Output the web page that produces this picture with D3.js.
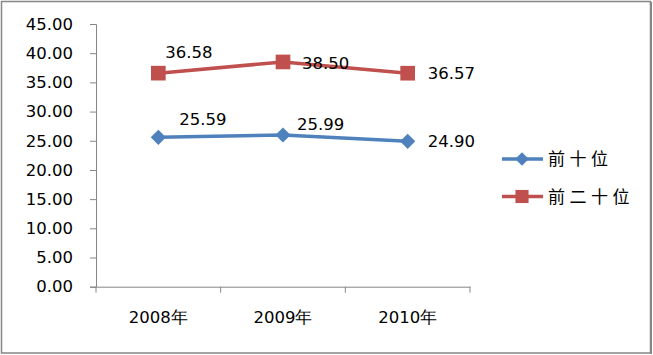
<!DOCTYPE html>
<html>
<head>
<meta charset="utf-8">
<script src="https://cdn.jsdelivr.net/npm/d3@7"></script>
<style>
  body { margin: 0; background: #fff; }
  svg text { font-family: "DejaVu Sans", sans-serif; }
</style>
</head>
<body>
<svg></svg>
<script>
// ===== Données =====
const categories = ["2008年", "2009年", "2010年"];
const seriesNames = ["前十位", "前二十位"];
const top10 = [25.59, 25.99, 24.90];
const top20 = [36.58, 38.50, 36.57];
const yTicks = [0, 5, 10, 15, 20, 25, 30, 35, 40, 45];

// décalage des étiquettes (dx, dy) par point, comme placées dans Excel
const labelShift10 = [[21, -18], [14, -11], [20, 0]];
const labelShift20 = [[7, -21], [19, 1], [20, 0]];

const width = 653, height = 355;
const svg = d3.select("svg").attr("width", width).attr("height", height);

// cadre du graphique
svg.append("rect")
  .attr("x", 1.5).attr("y", 1.5)
  .attr("width", 649).attr("height", 351.5)
  .attr("fill", "#fff").attr("stroke", "#868686").attr("stroke-width", 1.5);
svg.append("line").attr("x1", 651).attr("x2", 651).attr("y1", 2).attr("y2", 354)
  .attr("stroke", "#868686").attr("stroke-width", 2);

const x = d3.scaleBand().domain(categories).range([96, 470]);
const y = d3.scaleLinear().domain([0, 45]).range([286.7, 24]);

// axe Y
const yAxis = svg.append("g").attr("transform", "translate(96,0)")
  .call(d3.axisLeft(y).tickValues(yTicks).tickSize(6).tickPadding(17).tickFormat(d3.format(".2f")));
yAxis.selectAll("text").attr("font-size", 16.5).attr("fill", "#000")
  .style("font-family", "DejaVu Sans");

// axe X
const xAxis = svg.append("g").attr("transform", "translate(0,286.7)")
  .call(d3.axisBottom(x).tickSize(0).tickPadding(25));
xAxis.selectAll("text").attr("font-size", 16.5).attr("fill", "#000");
// graduations entre catégories
const bounds = [96].concat(categories.map(c => x(c) + x.bandwidth()));
xAxis.selectAll(".cat-tick").data(bounds).enter().append("line")
  .attr("x1", d => d).attr("x2", d => d).attr("y1", 0).attr("y2", 6)
  .attr("stroke", "#868686");
svg.selectAll(".domain, .tick line").attr("stroke", "#868686");

const cx = c => x(c) + x.bandwidth() / 2;
const line = d3.line().x((d, i) => cx(categories[i])).y(d => y(d));

const series = [
  { name: seriesNames[0], values: top10, color: "#4F81BD", size: 115, rot: 45, shift: labelShift10 },
  { name: seriesNames[1], values: top20, color: "#C0504D", size: 215, rot: 0, shift: labelShift20 }
];

series.forEach(s => {
  svg.append("path").datum(s.values)
    .attr("d", line).attr("fill", "none")
    .attr("stroke", s.color).attr("stroke-width", 3.5);

  svg.selectAll(null).data(s.values).enter().append("path")
    .attr("d", d3.symbol().type(d3.symbolSquare).size(s.size))
    .attr("transform", (d, i) => `translate(${cx(categories[i])},${y(d)}) rotate(${s.rot})`)
    .attr("fill", s.color);

  svg.selectAll(null).data(s.values).enter().append("text")
    .attr("x", (d, i) => cx(categories[i]) + s.shift[i][0])
    .attr("y", (d, i) => y(d) + s.shift[i][1])
    .attr("dy", "0.35em")
    .attr("font-size", 16.5).attr("fill", "#000")
    .text(d => d.toFixed(2));
});

// légende
const legend = svg.append("g");
series.forEach((s, i) => {
  const ly = 159 + i * 37.5;
  legend.append("line").attr("x1", 502).attr("x2", 543).attr("y1", ly).attr("y2", ly)
    .attr("stroke", s.color).attr("stroke-width", 3.5);
  legend.append("path")
    .attr("d", d3.symbol().type(d3.symbolSquare).size(s.size * 0.8))
    .attr("transform", `translate(522,${ly}) rotate(${s.rot})`).attr("fill", s.color);
  legend.append("text").attr("x", 548).attr("y", ly).attr("dy", "0.36em")
    .attr("font-size", 17).attr("letter-spacing", 4.5)
    .style("font-family", "'Noto Sans CJK SC', sans-serif")
    .text(s.name);
});
</script>
</body>
</html>
